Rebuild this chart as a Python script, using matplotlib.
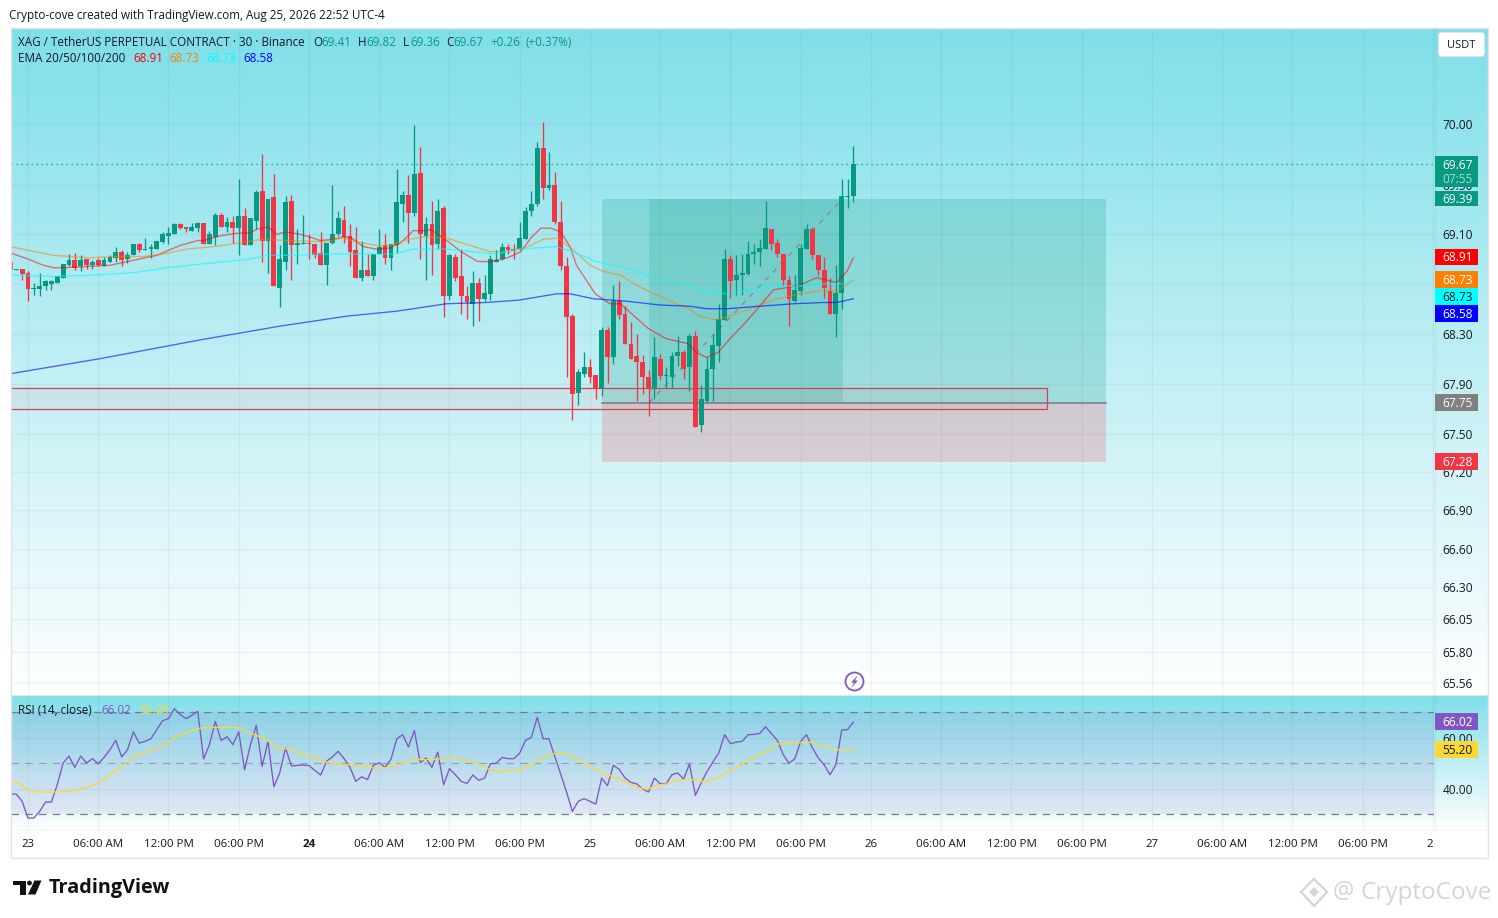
import numpy as np
import matplotlib
matplotlib.use('Agg')
import matplotlib.pyplot as plt
from matplotlib.patches import Rectangle, Circle, Polygon, FancyBboxPatch
from matplotlib.ticker import NullLocator

## Chart data, 30 minute bars counted from 23 Aug 00:00
bar_start = -3
opens = [68.88, 68.81, 68.82,
    68.79, 68.66, 68.66, 68.68, 68.70, 68.71, 68.75, 68.85, 68.89, 68.84,
    68.90, 68.85, 68.89, 68.84, 68.88, 68.91, 68.96, 68.90, 68.93, 69.02,
    68.97, 68.98, 68.98, 69.04, 69.09, 69.10, 69.18, 69.16, 69.13, 69.15,
    69.19, 69.02, 69.08, 69.26, 69.16, 69.20, 69.15, 69.25, 69.01, 69.21,
    69.45, 69.05, 69.40, 68.67, 68.88, 69.37, 69.01, 69.02, 69.03, 69.02,
    68.95, 68.85, 69.03, 69.10, 69.22, 69.09, 68.97, 68.75, 68.81, 68.76,
    68.94, 69.01, 68.91, 69.01, 69.35, 69.42, 69.27, 69.60, 69.09, 69.18,
    69.02, 69.31, 68.60, 68.92, 68.76, 68.60, 68.54, 68.71, 68.58, 68.62,
    68.88, 68.90, 69.00, 68.98, 68.98, 69.06, 69.29, 69.35, 69.80, 69.48,
    69.50, 69.20, 68.84, 68.44, 67.83, 67.98, 68.03, 67.97, 67.87, 68.33,
    68.11, 68.56, 68.46, 68.22, 68.12, 68.07, 67.95, 67.87, 68.10, 67.96,
    67.95, 68.12, 68.15, 68.03, 68.28, 67.57, 67.76, 68.02, 68.20, 68.41,
    68.90, 68.73, 68.77, 68.78, 68.94, 68.96, 68.98, 69.14, 69.03, 68.94,
    68.73, 68.56, 68.64, 68.98, 69.14, 68.93, 68.81, 68.64, 68.46, 68.63,
    69.40, 69.41]
highs = [68.88, 68.82, 68.82,
    68.80, 68.71, 68.79, 68.73, 68.73, 68.76, 68.86, 68.94, 68.95, 68.93,
    68.90, 68.89, 68.91, 68.92, 68.93, 69.00, 68.97, 68.96, 69.02, 69.03,
    69.07, 69.02, 69.05, 69.12, 69.16, 69.19, 69.19, 69.16, 69.19, 69.20,
    69.19, 69.13, 69.27, 69.27, 69.24, 69.25, 69.55, 69.31, 69.23, 69.46,
    69.75, 69.39, 69.59, 69.01, 69.41, 69.42, 69.14, 69.26, 69.10, 69.02,
    69.12, 69.03, 69.50, 69.29, 69.33, 69.18, 69.16, 69.05, 68.94, 68.94,
    69.14, 69.10, 69.02, 69.63, 69.45, 69.58, 69.99, 69.81, 69.24, 69.37,
    69.39, 69.33, 68.94, 68.94, 68.98, 68.68, 68.80, 68.75, 68.77, 68.93,
    68.97, 69.03, 69.02, 69.02, 69.20, 69.32, 69.45, 69.85, 70.02, 69.77,
    69.61, 69.37, 68.92, 68.46, 68.02, 68.15, 68.10, 67.97, 68.35, 68.35,
    68.69, 68.72, 68.52, 68.39, 68.30, 68.13, 68.01, 68.27, 68.14, 68.03,
    68.15, 68.28, 68.17, 68.30, 68.32, 67.89, 68.11, 68.30, 68.54, 68.98,
    68.93, 68.93, 68.94, 69.05, 69.02, 69.06, 69.37, 69.14, 69.06, 68.94,
    68.76, 68.77, 69.02, 69.18, 69.16, 68.93, 68.92, 68.75, 68.85, 69.55,
    69.55, 69.82]
lows = [68.81, 68.81, 68.73,
    68.56, 68.61, 68.60, 68.65, 68.65, 68.71, 68.75, 68.84, 68.81, 68.80,
    68.82, 68.82, 68.84, 68.84, 68.88, 68.88, 68.84, 68.87, 68.93, 68.96,
    68.97, 68.91, 68.98, 69.03, 69.02, 69.10, 69.14, 69.12, 69.13, 69.12,
    69.02, 69.02, 69.01, 69.16, 69.12, 69.03, 68.93, 69.01, 69.01, 69.14,
    68.88, 68.79, 68.68, 68.51, 68.81, 68.73, 68.86, 69.02, 68.90, 68.91,
    68.85, 68.69, 69.02, 69.09, 69.03, 68.84, 68.75, 68.72, 68.76, 68.73,
    68.94, 68.86, 68.81, 68.95, 69.20, 69.03, 69.25, 68.90, 68.73, 68.77,
    68.98, 68.43, 68.57, 68.72, 68.46, 68.42, 68.36, 68.40, 68.56, 68.57,
    68.88, 68.89, 68.94, 68.90, 68.97, 69.06, 69.25, 69.33, 69.39, 69.46,
    69.18, 68.81, 67.95, 67.61, 67.73, 67.95, 67.91, 67.78, 67.80, 67.91,
    68.06, 68.42, 68.22, 68.10, 67.76, 67.82, 67.64, 67.78, 67.93, 67.87,
    67.87, 68.04, 67.94, 67.84, 67.56, 67.52, 67.75, 67.76, 68.07, 68.41,
    68.59, 68.61, 68.61, 68.77, 68.86, 68.84, 68.98, 68.97, 68.92, 68.69,
    68.36, 68.55, 68.61, 68.98, 68.90, 68.77, 68.59, 68.46, 68.27, 68.50,
    69.31, 69.36]
closes = [68.81, 68.82, 68.78,
    68.66, 68.67, 68.68, 68.72, 68.72, 68.76, 68.86, 68.89, 68.83, 68.89,
    68.85, 68.88, 68.85, 68.89, 68.92, 68.96, 68.89, 68.93, 69.02, 68.97,
    68.98, 69.00, 69.05, 69.10, 69.11, 69.18, 69.15, 69.14, 69.16, 69.19,
    69.02, 69.10, 69.26, 69.16, 69.20, 69.15, 69.25, 69.01, 69.23, 69.44,
    69.05, 69.39, 68.68, 68.90, 69.36, 69.01, 69.03, 69.03, 69.02, 68.93,
    68.85, 69.03, 69.10, 69.23, 69.08, 68.96, 68.75, 68.81, 68.76, 68.94,
    69.00, 68.91, 69.02, 69.36, 69.42, 69.27, 69.59, 69.10, 69.18, 69.01,
    69.29, 68.60, 68.93, 68.75, 68.60, 68.55, 68.71, 68.58, 68.63, 68.90,
    68.89, 69.00, 68.97, 68.97, 69.07, 69.29, 69.35, 69.80, 69.48, 69.50,
    69.20, 68.84, 68.43, 67.82, 67.99, 68.03, 67.95, 67.87, 68.33, 68.11,
    68.56, 68.45, 68.22, 68.10, 68.07, 67.95, 67.87, 68.11, 67.96, 67.97,
    68.12, 68.15, 68.02, 68.28, 67.56, 67.78, 68.02, 68.21, 68.42, 68.90,
    68.72, 68.77, 68.79, 68.94, 68.96, 68.99, 69.15, 69.02, 68.94, 68.73,
    68.58, 68.65, 68.99, 69.14, 68.93, 68.81, 68.67, 68.46, 68.63, 69.41,
    69.41, 69.67]

ema20_bars = [-3, 0, 2.6, 4.4, 6, 10, 14, 18, 22, 26, 29, 30, 33, 36, 38, 39, 41, 42.5, 44, 46.5,
    48.7, 49.9, 52.2, 53.9, 55.3, 57.3, 59.6, 61.8, 63.6, 65, 65.8, 68, 68.8, 71, 74, 76.8, 79,
    81.9, 84.2, 85.9, 87.6, 89.3, 91, 92.6, 93.7, 96.9, 99.4, 101.2, 103.1, 106, 109, 112.8,
    114.2, 115.9, 117.9, 119.9, 122.2, 125, 127.3, 129.6, 131.9, 134.7, 136.4, 138.1, 139.9, 141]
ema20_vals = [68.95, 68.90, 68.85, 68.83, 68.83, 68.84, 68.85, 68.89, 68.93, 69.01, 69.05, 69.05,
    69.09, 69.11, 69.11, 69.14, 69.16, 69.10, 69.12, 69.10,
    69.07, 69.05, 69.06, 69.08, 69.07, 69.00, 68.98, 68.99, 69.03, 69.09, 69.13, 69.13, 69.14,
    69.07, 68.96, 68.88, 68.88, 68.91, 68.96, 69.07, 69.15, 69.15, 69.12, 69.00, 68.85, 68.62,
    68.54, 68.54, 68.46, 68.34, 68.26, 68.22, 68.15, 68.11, 68.15, 68.26, 68.37, 68.52, 68.65,
    68.67, 68.69, 68.75, 68.73, 68.71, 68.80, 68.91]

ema50_bars = [-3, 4.4, 10.6, 14, 19.7, 23, 27, 31.7, 36, 40, 44.2, 50.5, 53.9, 56, 59.6, 61.8, 65,
    68, 71.5, 74.9, 78.9, 81.9, 85.4, 88, 90.6, 93.7, 96, 98.3, 101.2, 103.9, 107.4, 110.8, 113,
    114.8, 117.6, 121.1, 124.5, 128, 131.9, 135.9, 138.1, 141]
ema50_vals = [69.00, 68.93, 68.91, 68.92, 68.92, 68.94, 68.98, 69.00, 69.03, 69.06, 69.05, 69.04,
    69.07, 69.04, 69.01, 69.01, 69.06, 69.08, 69.07, 69.02, 68.96, 68.96, 69.00, 69.06, 69.07,
    68.95, 68.85, 68.80, 68.77, 68.69, 68.61, 68.54, 68.50, 68.44, 68.41, 68.46, 68.52, 68.58,
    68.62, 68.65, 68.64, 68.73]

ema100_bars = [-3, 4.4, 11, 18, 23.7, 31.7, 38, 40.8, 46.5, 48.7, 54.4, 57.7, 62.3, 65.8, 71.5, 76,
    80, 84, 86.9, 90.3, 93.7, 96.9, 101.2, 105.7, 109.7, 113.1, 116.5, 119.4, 122.8, 126.8,
    130.8, 135.9, 139.3, 141]
ema100_vals = [68.77, 68.76, 68.77, 68.79, 68.83, 68.87, 68.90, 68.93, 68.93, 68.94, 68.94, 68.94,
    68.94, 68.98, 68.98, 68.96, 68.94, 68.98, 68.99, 69.00, 68.95, 68.88, 68.84, 68.77, 68.72,
    68.69, 68.63, 68.62, 68.65, 68.68, 68.68, 68.70, 68.70, 68.73]

ema200_bars = [-3, 12.3, 29.4, 43, 54.4, 62.9, 65.8, 71.5, 78.3, 84, 90.3, 92.6, 96.6, 102.3, 107.9,
    113.1, 115.9, 119.4, 125, 130.8, 135.9, 138.1, 141]
ema200_vals = [67.98, 68.10, 68.25, 68.36, 68.44, 68.48, 68.50, 68.54, 68.55, 68.57, 68.62, 68.62,
    68.58, 68.56, 68.53, 68.52, 68.50, 68.50, 68.52, 68.54, 68.55, 68.55, 68.58]

rsi_vals = [37.8, 37.8, 35.0,
    28.4, 28.4, 31.0, 34.7, 34.7, 41.5, 50.0, 52.7, 48.3, 52.7,
    50.0, 51.7, 49.7, 52.2, 55.2, 58.9, 52.4, 55.2, 62.2, 57.8,
    58.5, 59.5, 63.1, 66.6, 67.4, 71.3, 69.0, 67.4, 68.7, 70.3,
    51.6, 57.2, 66.3, 58.8, 60.3, 57.2, 62.2, 47.3, 57.2, 64.8,
    48.7, 58.5, 40.7, 46.1, 55.9, 48.8, 49.1, 49.2, 49.0, 47.1,
    45.3, 50.7, 52.4, 54.6, 51.7, 48.3, 42.8, 44.6, 43.5, 49.1,
    50.1, 48.3, 51.4, 59.5, 61.1, 56.3, 62.8, 50.1, 52.0, 48.3,
    54.3, 41.5, 47.8, 45.4, 42.8, 42.0, 45.3, 43.2, 44.1, 49.7,
    49.9, 52.2, 51.7, 51.7, 53.9, 58.9, 60.1, 67.9, 59.5, 59.5,
    52.5, 45.7, 38.6, 31.0, 35.0, 36.0, 35.0, 33.9, 44.1, 41.1,
    49.1, 47.5, 44.1, 42.4, 41.8, 39.8, 38.6, 44.1, 41.8, 41.8,
    45.4, 46.1, 43.7, 49.7, 37.3, 42.2, 46.7, 50.4, 53.9, 61.1,
    57.6, 58.2, 58.5, 61.1, 61.2, 61.6, 64.2, 61.5, 58.9, 53.3,
    49.9, 51.7, 58.5, 61.1, 55.9, 52.0, 49.3, 45.4, 49.3, 62.9,
    63.1, 66.02]

rsi_ma_bars = [-3, -1.4, 0, 1.5, 4.3, 8.3, 11.7, 13.4, 16.3, 18.9, 21.1, 23.1, 26, 29.4, 33.4, 36,
    37.9, 40.2, 43, 44.8, 46.5, 49.3, 50.5, 52.7, 56.7, 59, 61.8, 65.8, 69.2, 72, 76, 78.4, 80,
    84, 86.3, 89.1, 92, 94.9, 97.7, 101.1, 103.9, 105.7, 107.4, 109.1, 110.8, 113.1, 115.4,
    117.7, 120, 123.3, 126.2, 128.2, 130.8, 133.6, 135.9, 138.4, 141]
rsi_ma_vals = [42.8, 41.8, 39.5, 38.6, 38.6, 39.2, 41.8, 44.1, 49.3, 53.5, 54.8, 56.9, 61.1, 63.7,
    64.1, 63.9, 61.8, 59.8, 55.5, 55.5, 53.7, 52.0, 50.5, 49.6, 49.1, 48.0, 48.3, 51.4, 51.3,
    52.3, 50.7, 48.0, 46.7, 47.1, 49.7, 53.5, 53.8, 50.0, 46.7, 43.5, 40.5, 39.7, 41.2, 41.8,
    43.2, 43.7, 42.7, 43.9, 47.0, 51.3, 54.6, 57.5, 58.0, 58.1, 56.9, 55.2, 55.2]

price_ticks = [70.00, 69.50, 69.10, 68.70, 68.30, 67.90, 67.50, 67.20, 66.90, 66.60, 66.30, 66.05, 65.80, 65.56]
rsi_ticks = [60.00, 40.00]
time_bars = [0, 12, 24, 36, 48, 60, 72, 84, 96, 108, 120, 132, 144, 156, 168, 180, 192, 204, 216, 228, 240]
time_labels = ['23', '06:00 AM', '12:00 PM', '06:00 PM', '24', '06:00 AM', '12:00 PM', '06:00 PM',
    '25', '06:00 AM', '12:00 PM', '06:00 PM', '26', '06:00 AM', '12:00 PM', '06:00 PM',
    '27', '06:00 AM', '12:00 PM', '06:00 PM', '2']

## Long position tool and the zone box
position_start, position_fill_start, position_fill_end, position_end = 98, 106.1, 139.2, 184.15
target_price, entry_price, stop_price = 69.39, 67.75, 67.28
zone_start, zone_end, zone_top, zone_bottom = -5, 174.1, 67.87, 67.70

## Colours and layout
W, H = 1498, 918
UP = '#089981'
DOWN = '#f23645'
TEXT = '#131722'
GRID = '#2a2e39'
GRID_ALPHA = 0.05
TOP_COLOR = np.array([127, 223, 233]) / 255
FONT = 'Open Sans'
SIZE = 8.4

plt.rcParams['font.family'] = FONT
plt.rcParams['font.size'] = SIZE


def pane(left, top, right, bottom):
    return [left / W, 1 - bottom / H, (right - left) / W, (bottom - top) / H]


def gradient_pane(left, top, right, bottom):
    ax = fig.add_axes(pane(left, top, right, bottom), zorder=0)
    steps = np.linspace(0, 1, 256)[:, None, None]
    ax.imshow(TOP_COLOR * (1 - steps) + steps, aspect='auto', interpolation='bilinear')
    ax.axis('off')


def style_grid(ax):
    ax.set_facecolor('none')
    ax.grid(True, color=GRID, alpha=GRID_ALPHA, linewidth=1)
    ax.set_axisbelow(True)
    for side in ax.spines.values():
        side.set_visible(False)
    ax.tick_params(length=0, labelcolor=TEXT, labelsize=8.6)
    ax.tick_params(axis='x', labelsize=8.25)
    ax.yaxis.tick_right()
    ax.set_xlim(-2.9, 240.18)
    ax.set_xticks(time_bars)


fig = plt.figure(figsize=(W / 100, H / 100), dpi=100, facecolor='white')
gradient_pane(11, 28, 1488, 695)
gradient_pane(11, 695, 1488, 830)

## Price pane
ax = fig.add_axes(pane(11, 28, 1434, 695), zorder=2)
ax.set_yscale('log')
ax.set_ylim(65.467, 70.792)
ax.set_yticks(price_ticks, ['%.2f' % t for t in price_ticks])
ax.yaxis.set_minor_locator(NullLocator())
style_grid(ax)
ax.set_xticklabels([])
ax.tick_params(axis='y', pad=6)

ax.add_patch(Rectangle((position_start, entry_price), position_end - position_start, target_price - entry_price,
                       facecolor=UP, alpha=0.2, edgecolor='none', zorder=1))
ax.add_patch(Rectangle((position_start, stop_price), position_end - position_start, entry_price - stop_price,
                       facecolor=DOWN, alpha=0.2, edgecolor='none', zorder=1))
ax.add_patch(Rectangle((position_fill_start, entry_price), position_fill_end - position_fill_start,
                       target_price - entry_price, facecolor=UP, alpha=0.17, edgecolor='none', zorder=1))
ax.add_patch(Rectangle((zone_start, zone_bottom), zone_end - zone_start, zone_top - zone_bottom,
                       facecolor=(242 / 255, 54 / 255, 69 / 255, 0.06),
                       edgecolor='#d2434f', linewidth=0.9, zorder=1.2))
ax.plot([position_start, position_end], [entry_price, entry_price], color='#787b86', linewidth=1.1, zorder=1.3)
ax.plot([position_fill_start, position_fill_end], [entry_price, target_price], color='#808a90',
        linewidth=0.9, dashes=(4, 5), zorder=1.4)

bars = np.arange(bar_start, bar_start + len(closes))
opens, highs, lows, closes = map(np.array, (opens, highs, lows, closes))
colors = np.where(closes >= opens, UP, DOWN)
ax.vlines(bars, lows, highs, colors=colors, linewidth=0.95, zorder=2)
tops = np.maximum(opens, closes)
bottoms = np.minimum(opens, closes)
ax.bar(bars, np.maximum(tops - bottoms, 0.008), bottom=bottoms, width=0.82, color=colors, zorder=2.1, linewidth=0)

ax.plot(ema20_bars, ema20_vals, color='#ff0000', alpha=0.55, linewidth=0.95, zorder=3)
ax.plot(ema50_bars, ema50_vals, color='#ff7f00', alpha=0.55, linewidth=0.95, zorder=3)
ax.plot(ema100_bars, ema100_vals, color='#00ffff', alpha=0.6, linewidth=0.95, zorder=3)
ax.plot(ema200_bars, ema200_vals, color='#0000ff', alpha=0.6, linewidth=0.95, zorder=3)
ax.axhline(closes[-1], color=UP, linewidth=0.9, dashes=(1, 3), zorder=3)

## RSI pane
rsi_ax = fig.add_axes(pane(11, 695, 1434, 830), zorder=2)
rsi_ax.set_ylim(23.73, 76.67)
rsi_ax.set_yticks(rsi_ticks, ['%.2f' % t for t in rsi_ticks])
style_grid(rsi_ax)
rsi_ax.tick_params(axis='y', pad=6)
rsi_ax.tick_params(axis='x', pad=6.3)
rsi_ax.set_xticklabels(time_labels)
for lab, txt in zip(rsi_ax.get_xticklabels(), time_labels):
    if txt == '24':
        lab.set_fontweight('bold')
    if txt == '2':
        lab.set_ha('right')
rsi_ax.axhspan(30, 70, facecolor='#7e57c2', alpha=0.12, linewidth=0, zorder=0.5)
rsi_ax.axhline(70, color='#787b86', linewidth=0.9, dashes=(6, 5), zorder=1)
rsi_ax.axhline(50, color='#787b86', alpha=0.6, linewidth=0.9, dashes=(6, 5), zorder=1)
rsi_ax.axhline(30, color='#787b86', linewidth=0.9, dashes=(6, 5), zorder=1)
rsi_ax.plot(bars, rsi_vals, color='#7e57c2', linewidth=0.95, zorder=3)
rsi_ax.plot(rsi_ma_bars, rsi_ma_vals, color='#fdd835', linewidth=0.95, zorder=3)

## Everything else is placed in image pixels
ov = fig.add_axes([0, 0, 1, 1], zorder=5)
ov.set_xlim(0, W)
ov.set_ylim(H, 0)
ov.axis('off')
ov.patch.set_alpha(0)

# chart frame and separators
ov.add_patch(Rectangle((10.5, 27.5), 1477.5, 830, facecolor='none', edgecolor='#e0e3eb', linewidth=1))
ov.plot([10.5, 1488], [695, 695], color='#d8e8ec', linewidth=0.8)
ov.plot([1434.5, 1434.5], [28, 830], color=GRID, alpha=GRID_ALPHA, linewidth=1)
ov.plot([10.5, 1488], [830, 830], color='#f0f3f6', linewidth=0.6)


def put(x, y, txt, color=TEXT, size=SIZE, **kw):
    kw.setdefault('va', 'center')
    return ov.text(x, y, txt, color=color, fontsize=size, **kw)


def price_label(top, bottom, txt, fill, color='white'):
    ov.add_patch(Rectangle((1435, top), 43, bottom - top, facecolor=fill, edgecolor='none', zorder=4))
    put(1457.5, (top + bottom) / 2 + 0.8, txt, color=color, ha='center', size=8.6, zorder=5)


put(9, 15, 'Crypto-cove created with TradingView.com, Aug 25, 2026 22:52 UTC-4')
put(17.5, 42, 'XAG / TetherUS PERPETUAL CONTRACT \u00b7 30 \u00b7 Binance')
for x, t in ((313, 'O'), (358, 'H'), (403, 'L'), (446, 'C')):
    put(x, 42, t)
for x, t in ((321, '69.41'), (366, '69.82'), (410, '69.36'), (453, '69.67'), (490, '+0.26'), (525, '(+0.37%)')):
    put(x, 42, t, color=UP)
put(17.5, 59, 'EMA 20/50/100/200')
for x, t, c in ((133, '68.91', '#ff0000'), (169, '68.73', '#ff7f00'), (206, '68.73', '#00ffff'), (243, '68.58', '#0000ff')):
    put(x, 59, t, color=c)
put(18, 710, 'RSI (14, close)')
put(101, 710, '66.02', color='#7e57c2')
put(139, 710, '55.20', color='#fdd835')

# USDT button
ov.add_patch(FancyBboxPatch((1440, 34), 43, 21, boxstyle='round,pad=1.5,rounding_size=3',
                            facecolor='white', edgecolor='#e0e3eb', linewidth=0.7))
put(1461, 45, 'USDT', ha='center', size=8)

# axis price labels
ov.add_patch(Rectangle((1435, 156), 43, 31, facecolor=UP, edgecolor='none', zorder=4))
put(1457.5, 165.5, '69.67', color='white', ha='center', size=8.6, zorder=5)
put(1457.5, 179.5, '07:55', color='#a9dcd3', ha='center', size=8.6, zorder=5)
price_label(191, 206, '69.39', UP)
price_label(249, 265, '68.91', '#ff0000')
price_label(271, 288, '68.73', '#ff7f00')
price_label(288, 305, '68.73', '#00ffff', color=TEXT)
price_label(305, 322, '68.58', '#0000ff')
price_label(394, 411, '67.75', '#808080')
price_label(453, 470, '67.28', DOWN)
price_label(713, 730, '66.02', '#7e57c2')
price_label(741, 758, '55.20', '#fdd835', color=TEXT)

# event marker
ov.add_patch(Circle((854.5, 681.5), 9, facecolor='white', edgecolor='#7e57c2', linewidth=1.3, zorder=4))
ov.add_patch(Polygon([[858, 675], [851, 682.5], [854, 682.5], [851, 688], [858, 680.5], [855, 680.5]],
                     facecolor='#7e57c2', edgecolor='none', zorder=5))

# TradingView logo
ov.add_patch(Polygon([[12.5, 880.5], [26, 880.5], [26, 894.5], [19.5, 894.5], [19.5, 885], [12.5, 885]],
                     facecolor='#111111', edgecolor='none'))
ov.add_patch(Circle((29.5, 883), 2.4, facecolor='#111111', edgecolor='none'))
ov.add_patch(Polygon([[34.5, 880.5], [41.5, 880.5], [35.5, 894.5], [28, 894.5]], facecolor='#111111', edgecolor='none'))
put(48.5, 888.5, 'TradingView', color='#111111', size=14.3, fontweight='bold')

# watermark
mark = '#d9d2d8'
ov.add_patch(Polygon([[1314, 879], [1327, 892], [1314, 906], [1301, 892]], facecolor='none', edgecolor=mark, linewidth=1.6))
ov.add_patch(Polygon([[1314, 887], [1319, 892], [1314, 897], [1309, 892]], facecolor=mark, edgecolor='none'))
put(1333, 892, '@', color=mark, size=17)
put(1360, 893, 'CryptoCove', color=mark, size=17.5)

fig.savefig('out.png', dpi=100)
